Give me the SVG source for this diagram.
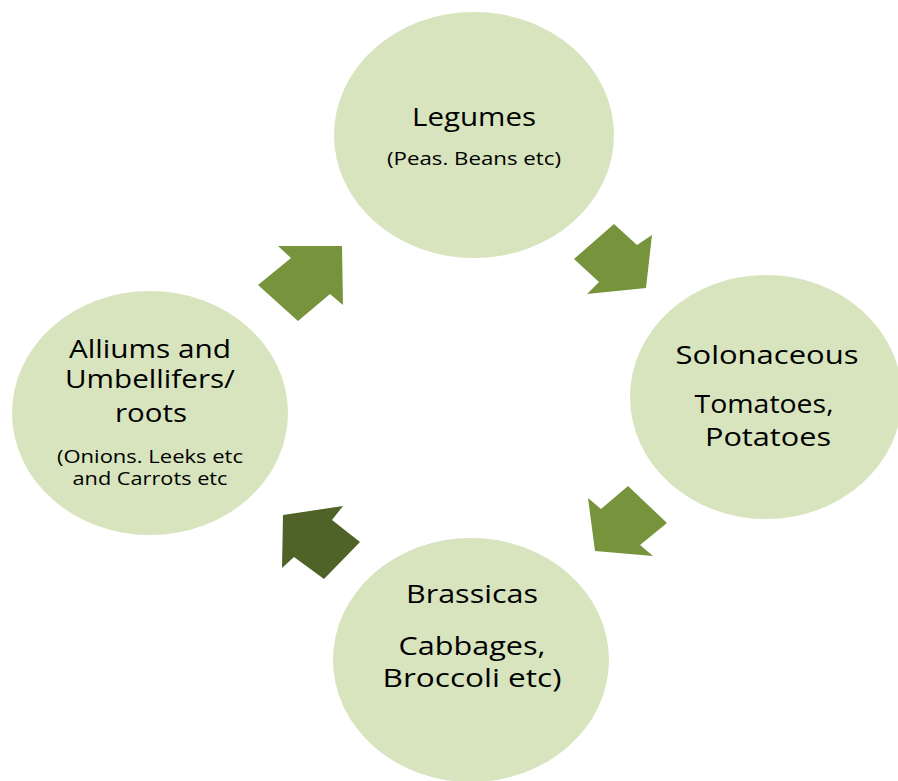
<svg xmlns="http://www.w3.org/2000/svg" width="898" height="781" viewBox="0 0 898 781">
<style>
.node ellipse{fill:#D7E4BD;}
.t{font-family:"Open Sans","Noto Sans",sans-serif;font-size:26px;fill:#000;text-anchor:middle;}
.s{font-family:"Open Sans","Noto Sans",sans-serif;font-size:18px;fill:#000;text-anchor:middle;}
.arr{fill:#77933C;}
.arr-dark{fill:#4F6228;}
</style>
<rect width="898" height="781" fill="#FFFFFF"/>
<g id="connectors">
<polygon class="arr" points="342,246 343,305 330,294 298,321 258,285 291,258 278,246"/>
<polygon class="arr" points="614,224 637,245 652,235 646,288 587,294 599,282 574,259"/>
<polygon class="arr" points="628,486 667,523 640,545 653,556 595,551 588,498 601,509"/>
<polygon class="arr-dark" points="283,515 343,506 332,520 360,542 324,579 294,557 282,568"/>
</g>
<g id="legumes" class="node">
<ellipse cx="474" cy="135" rx="140" ry="123"/>
<text class="t" x="474" y="126" textLength="124" lengthAdjust="spacingAndGlyphs">Legumes</text>
<text class="s" x="474" y="165" textLength="174" lengthAdjust="spacingAndGlyphs">(Peas. Beans etc)</text>
</g>
<g id="solonaceous" class="node">
<ellipse cx="766" cy="397" rx="136" ry="122"/>
<text class="t" x="767" y="364" textLength="183" lengthAdjust="spacingAndGlyphs">Solonaceous</text>
<text class="t" x="764" y="413" textLength="139" lengthAdjust="spacingAndGlyphs">Tomatoes,</text>
<text class="t" x="768" y="446" textLength="126" lengthAdjust="spacingAndGlyphs">Potatoes</text>
</g>
<g id="brassicas" class="node">
<ellipse cx="471" cy="660" rx="138" ry="122"/>
<text class="t" x="472" y="603" textLength="132" lengthAdjust="spacingAndGlyphs">Brassicas</text>
<text class="t" x="472" y="655" textLength="147" lengthAdjust="spacingAndGlyphs">Cabbages,</text>
<text class="t" x="472" y="687" textLength="179" lengthAdjust="spacingAndGlyphs">Broccoli etc)</text>
</g>
<g id="alliums" class="node">
<ellipse cx="150" cy="413" rx="138" ry="122"/>
<text class="t" x="150" y="358" textLength="162" lengthAdjust="spacingAndGlyphs">Alliums and</text>
<text class="t" x="150" y="388" textLength="170" lengthAdjust="spacingAndGlyphs">Umbellifers/</text>
<text class="t" x="151" y="422" textLength="72" lengthAdjust="spacingAndGlyphs">roots</text>
<text class="s" x="150" y="463" textLength="186" lengthAdjust="spacingAndGlyphs">(Onions. Leeks etc</text>
<text class="s" x="150" y="485" textLength="155" lengthAdjust="spacingAndGlyphs">and Carrots etc</text>
</g>
</svg>
